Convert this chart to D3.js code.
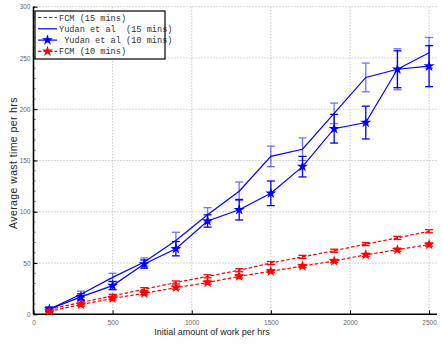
<!DOCTYPE html>
<html>
<head>
<meta charset="utf-8">
<script src="https://cdn.jsdelivr.net/npm/d3@7"></script>
<style>
  body { margin: 0; background: #fff; }
  svg { display: block; }
</style>
</head>
<body>
<div id="chart"></div>
<script>
const width = 443;
const height = 346;

// x positions (initial amount of work per hrs)
const work = [100, 300, 500, 700, 900, 1100, 1300, 1500, 1700, 1900, 2100, 2300, 2500];

// series values
const fcm15 = [5, 11.5, 18, 24.5, 31, 37, 43, 50, 56, 62, 68.5, 74.5, 81];
const fcm15Err = [1.5, 1.5, 1.5, 1.5, 1.5, 1.5, 1.5, 1.5, 1.5, 1.5, 1.5, 1.5, 1.5];
const yudan15 = [5, 19.5, 36, 51, 72, 97, 120, 154, 161, 196, 231, 239, 255];
const yudan15Err = [2, 3, 4, 4, 8, 7, 9, 10, 11, 10, 14, 20, 15];
const yudan10 = [5, 17, 28, 49, 64, 91, 102, 118, 144, 181, 187, 239, 242];
const yudan10Err = [2, 3, 4, 4, 7, 6, 10, 12, 10, 14, 16, 18, 20];
const fcm10 = [3, 9.5, 15.5, 20.5, 26, 31, 37, 42, 47, 52, 58, 63, 68];
const fcm10Err = [1.5, 1.5, 1.5, 1.5, 1.5, 1.5, 1.5, 1.5, 1.5, 1.5, 1.5, 1.5, 1.5];

const xTicks = [0, 500, 1000, 1500, 2000, 2500];
const yTicks = [0, 50, 100, 150, 200, 250, 300];

const legendNames = ['FCM (15 mins)', 'Yudan et al  (15 mins)', ' Yudan et al (10 mins)', 'FCM (10 mins)'];

const series = [
  { name: legendNames[0], values: fcm15, err: fcm15Err, color: '#ff0000', dash: '3.5,2', star: false, errOpacity: 1 },
  { name: legendNames[1], values: yudan15, err: yudan15Err, color: '#0000ff', dash: null, star: false, errOpacity: 0.55 },
  { name: legendNames[2], values: yudan10, err: yudan10Err, color: '#0000ff', dash: null, star: true, errOpacity: 1 },
  { name: legendNames[3], values: fcm10, err: fcm10Err, color: '#ff0000', dash: '3.5,2', star: true, errOpacity: 1 },
];

const margin = { left: 33.5, right: 6, top: 6.7, bottom: 31.7 };

const x = d3.scaleLinear().domain([0, 2550]).range([margin.left, width - margin.right]);
const y = d3.scaleLinear().domain([0, 300]).range([height - margin.bottom, margin.top]);

const svg = d3.select('#chart').append('svg')
  .attr('width', width)
  .attr('height', height);

// dotted grid
const grid = svg.append('g').attr('stroke', '#999').attr('stroke-dasharray', '1,2').attr('stroke-width', 0.8);
grid.selectAll('.gx').data(xTicks.slice(1)).join('line')
  .attr('x1', d => x(d)).attr('x2', d => x(d))
  .attr('y1', y(0)).attr('y2', y(300));
grid.selectAll('.gy').data(yTicks.slice(1)).join('line')
  .attr('x1', x(0)).attr('x2', x(2550))
  .attr('y1', d => y(d)).attr('y2', d => y(d));

// axes
const xAxis = d3.axisBottom(x).tickValues(xTicks).tickFormat(d3.format('d')).tickSize(-4).tickPadding(6);
const gx = svg.append('g').attr('transform', `translate(0,${y(0)})`).call(xAxis);
gx.select('.domain').attr('stroke-width', 1.6).attr('d', `M${x(0)},0H${x(2550)}`);

const yAxis = d3.axisLeft(y).tickValues(yTicks).tickSize(-4).tickPadding(3);
const gy = svg.append('g').attr('transform', `translate(${x(0)},0)`).call(yAxis);
gy.select('.domain').attr('stroke-width', 1.6).attr('d', `M0,${y(0)}V${y(300)}`);

// minor ticks on y axis
svg.append('g').selectAll('line').data(d3.range(0, 301, 10)).join('line')
  .attr('x1', x(0)).attr('x2', x(0) + 2)
  .attr('y1', d => y(d)).attr('y2', d => y(d))
  .attr('stroke', '#000').attr('stroke-width', 0.6);

[gx, gy].forEach(g => {
  g.selectAll('text').attr('font-family', 'Liberation Sans, Arial, sans-serif')
    .attr('font-size', 6.5).attr('fill', '#666');
  g.selectAll('.tick line').attr('stroke', '#000');
});

// axis titles
svg.append('text')
  .attr('x', 212)
  .attr('y', height - 11)
  .attr('text-anchor', 'middle')
  .attr('font-family', 'Liberation Sans, Arial, sans-serif')
  .attr('font-size', 9)
  .attr('fill', '#222')
  .text('Initial amount of work per hrs');

svg.append('text')
  .attr('transform', `translate(17,163) rotate(-90)`)
  .attr('text-anchor', 'middle')
  .attr('font-family', 'Liberation Sans, Arial, sans-serif')
  .attr('font-size', 10.5)
  .attr('letter-spacing', 0.4)
  .attr('fill', '#222')
  .text('Average wast time  per hrs');

const line = d3.line().x(d => x(d[0])).y(d => y(d[1]));
const star = d3.symbol().type(d3.symbolStar).size(38);

series.forEach(s => {
  const pts = work.map((w, i) => [w, s.values[i], s.err[i]]);
  const g = svg.append('g');

  // error bars
  const eb = g.append('g').attr('stroke', s.color).attr('stroke-width', 1.3).attr('opacity', s.errOpacity);
  pts.forEach(p => {
    const cx = x(p[0]);
    const hi = y(p[1] + p[2]);
    const lo = y(p[1] - p[2]);
    eb.append('line').attr('x1', cx).attr('x2', cx).attr('y1', hi).attr('y2', lo);
    eb.append('line').attr('x1', cx - 4).attr('x2', cx + 4).attr('y1', hi).attr('y2', hi);
    eb.append('line').attr('x1', cx - 4).attr('x2', cx + 4).attr('y1', lo).attr('y2', lo);
  });

  g.append('path')
    .datum(pts)
    .attr('d', line)
    .attr('fill', 'none')
    .attr('stroke', s.color)
    .attr('stroke-width', 1.2)
    .attr('stroke-dasharray', s.dash);

  if (s.star) {
    g.selectAll('.mk').data(pts).join('path')
      .attr('transform', d => `translate(${x(d[0])},${y(d[1])})`)
      .attr('d', star)
      .attr('fill', s.color);
  }
});

// legend
const lg = svg.append('g');
const lgX = 35, lgY = 11, lgW = 130, lgH = 48;
lg.append('rect')
  .attr('x', lgX).attr('y', lgY).attr('width', lgW).attr('height', lgH)
  .attr('fill', '#fff');
series.forEach((s, i) => {
  const yy = lgY + 6.5 + i * 11.3;
  lg.append('line')
    .attr('x1', lgX + 3).attr('x2', lgX + 22)
    .attr('y1', yy).attr('y2', yy)
    .attr('stroke', s.color).attr('stroke-width', 1.2)
    .attr('stroke-dasharray', s.dash);
  if (s.star) {
    lg.append('path')
      .attr('transform', `translate(${lgX + 12.5},${yy})`)
      .attr('d', star)
      .attr('fill', s.color);
  }
  lg.append('text')
    .attr('x', lgX + 24).attr('y', yy + 3)
    .attr('font-family', 'Liberation Mono, Courier New, monospace')
    .attr('font-size', 8.6)
    .attr('fill', '#333')
    .style('white-space', 'pre')
    .text(s.name);
});
lg.append('rect')
  .attr('x', lgX).attr('y', lgY).attr('width', lgW).attr('height', lgH)
  .attr('fill', 'none').attr('stroke', '#000').attr('stroke-width', 1.2);
</script>
</body>
</html>
